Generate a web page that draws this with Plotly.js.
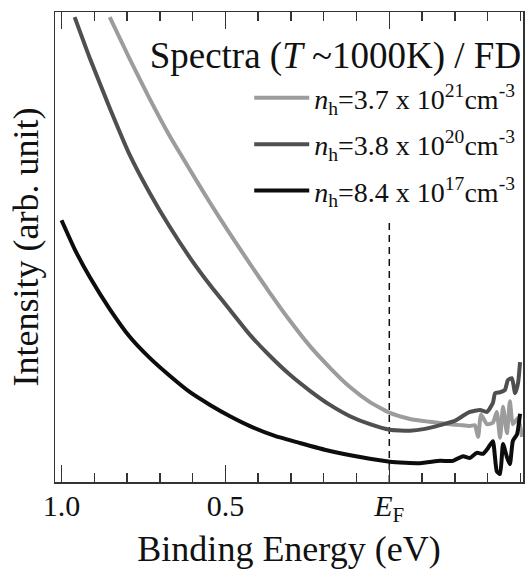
<!DOCTYPE html>
<html>
<head>
<meta charset="utf-8">
<script src="https://cdn.plot.ly/plotly-3.0.1.min.js"></script>
<style>html,body{margin:0;padding:0;background:#fff;}#chart{width:528px;height:571px;}</style>
</head>
<body>
<div id="chart"></div>
<script>
// Binding energy (eV) and intensity (arb. unit)
const energyA = [0.853,0.792,0.731,0.670,0.608,0.547,0.486,0.425,0.364,0.303,0.242,0.181,0.120,0.059,-0.002,-0.063,-0.124,-0.185,-0.216,-0.246,-0.261,-0.271,-0.280,-0.298,-0.316,-0.328,-0.338,-0.347,-0.359,-0.368,-0.377,-0.393,-0.405];
const intensA = [98.9,90.0,81.5,73.6,66.4,59.4,52.8,46.4,40.2,34.3,28.9,24.3,20.2,17.0,14.7,13.4,12.8,12.3,12.1,11.9,12.1,9.6,14.3,12.3,12.6,14.9,9.4,16.0,10.4,17.2,12.3,13.6,9.6];

const energyB = [0.960,0.914,0.853,0.792,0.731,0.670,0.608,0.547,0.486,0.425,0.364,0.303,0.242,0.181,0.120,0.059,-0.002,-0.063,-0.109,-0.155,-0.200,-0.230,-0.246,-0.277,-0.298,-0.316,-0.323,-0.338,-0.353,-0.362,-0.374,-0.384,-0.393,-0.399];
const intensB = [98.9,90.2,79.6,69.6,61.5,54.3,47.7,41.9,36.6,31.3,26.8,22.8,19.4,16.4,14.0,12.3,11.1,10.9,11.3,12.1,13.0,14.3,14.9,15.3,14.9,16.8,18.9,19.1,19.6,21.7,22.1,18.9,21.1,25.5];

const energyC = [1.000,0.959,0.914,0.853,0.792,0.731,0.670,0.608,0.547,0.486,0.425,0.349,0.273,0.181,0.089,-0.002,-0.094,-0.155,-0.194,-0.225,-0.246,-0.267,-0.286,-0.301,-0.316,-0.328,-0.338,-0.347,-0.359,-0.368,-0.377,-0.390,-0.399];
const intensC = [55.7,49.4,43.6,36.8,30.9,26.4,22.6,19.1,16.4,14.0,11.9,9.8,8.3,6.6,5.3,4.3,4.0,4.5,4.5,5.5,5.1,6.2,6.0,7.2,8.7,2.3,1.7,8.1,5.3,3.8,8.7,10.2,14.5];

const seriesNames = [
  "<i>n</i><sub>h</sub>=3.7 x 10<sup>21</sup>cm<sup>-3</sup>",
  "<i>n</i><sub>h</sub>=3.8 x 10<sup>20</sup>cm<sup>-3</sup>",
  "<i>n</i><sub>h</sub>=8.4 x 10<sup>17</sup>cm<sup>-3</sup>"
];
const tickVals = [1.0, 0.5, 0];
const tickText = ["1.0", "0.5", "<i>E</i><sub>F</sub>"];
const fermiLevel = 0;
const fermiLineTop = 56;

const FONT = "Liberation Serif, Times New Roman, serif";

function mk(x, y, name, color, w, grp) {
  return {x: x, y: y, name: name, type: "scatter", mode: "lines",
    legendgroup: grp,
    line: {color: color, width: w, shape: "spline", smoothing: 0.5}};
}

const data = [
  mk(energyA, intensA, seriesNames[0], "#9c9c9c", 4, "a"),
  mk(energyB, intensB, seriesNames[1], "#4f4f4f", 4, "b"),
  mk(energyC, intensC, seriesNames[2], "#0d0d0d", 4, "c")
];

const layout = {
  width: 528, height: 571,
  margin: {l: 55, r: 5, t: 12, b: 89, autoexpand: false},
  paper_bgcolor: "#fff", plot_bgcolor: "#fff",
  font: {family: FONT, color: "#111"},
  showlegend: true,
  title: {
    text: "Spectra (<i>T</i> ~1000K) / FD",
    font: {family: FONT, size: 37, color: "#111"},
    xref: "container", x: 0.987, xanchor: "right",
    yref: "container", y: 0.903, yanchor: "middle",
    automargin: false
  },
  legend: {
    x: 0.415, y: 0.87, xanchor: "left", yanchor: "top",
    bgcolor: "rgba(0,0,0,0)", borderwidth: 0,
    font: {family: FONT, size: 28, color: "#111"},
    traceorder: "grouped", tracegroupgap: 7, itemwidth: 55
  },
  xaxis: {
    range: [1.02, -0.408], autorange: false,
    tickmode: "array", tickvals: tickVals, ticktext: tickText,
    ticks: "inside", ticklen: 17, tickwidth: 1.5, tickcolor: "#333",
    showline: true, linewidth: 1.5, linecolor: "#333", mirror: "ticks",
    showgrid: false, zeroline: false,
    tickfont: {family: FONT, size: 30, color: "#111"},
    ticklabelstandoff: -4,
    minor: {tickmode: "linear", tick0: 0, dtick: 0.1, ticks: "inside", ticklen: 9, tickwidth: 1.5, tickcolor: "#333", showgrid: false},
    title: {text: "Binding Energy (eV)", font: {family: FONT, size: 36, color: "#111"}, standoff: 10},
    automargin: false
  },
  yaxis: {
    range: [0, 100], autorange: false,
    showticklabels: false, ticks: "",
    showline: true, linewidth: 1.5, linecolor: "#333", mirror: true,
    showgrid: false, zeroline: false,
    title: {text: "Intensity (arb. unit)", font: {family: FONT, size: 36, color: "#111"}, standoff: 4},
    automargin: false
  },
  shapes: [{
    type: "line", xref: "x", yref: "y", x0: fermiLevel, x1: fermiLevel, y0: 0, y1: fermiLineTop,
    line: {color: "#111", width: 1.5, dash: "7px,5px"}, layer: "below"
  }]
};

Plotly.newPlot("chart", data, layout, {displayModeBar: false, staticPlot: true});
</script>
</body>
</html>
